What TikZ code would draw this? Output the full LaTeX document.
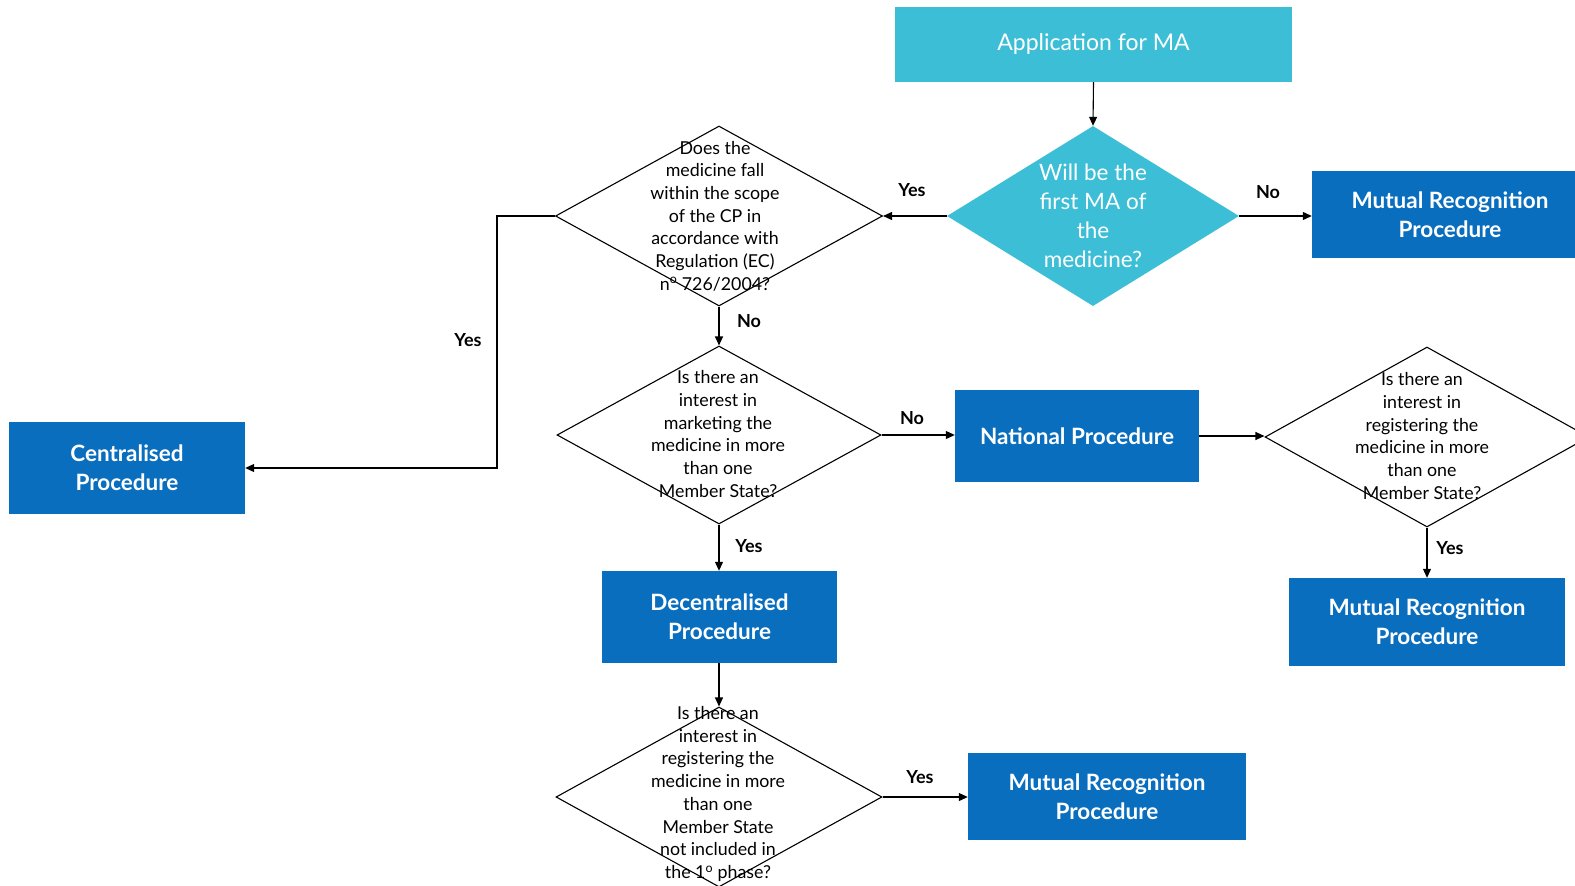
\documentclass[tikz,border=0pt]{standalone}
\usepackage{fontspec}
\setmainfont{Lato}
\usetikzlibrary{shapes.geometric,arrows.meta}
\definecolor{cyanbox}{HTML}{3CBFD6}
\definecolor{bluebox}{HTML}{0A6EBF}
\begin{document}
\begin{tikzpicture}[x=1pt,y=-1pt,
  procbox/.style={rectangle, fill=bluebox, text=white, inner sep=0pt, align=center,
    font=\fontsize{22.5}{29}\selectfont\bfseries},
  qdiamond/.style={diamond, draw=black, line width=1.1pt, inner sep=0pt, fill=white},
  qtext/.style={align=center, inner sep=0pt, font=\fontsize{17.8}{22.7}\selectfont},
  lbl/.style={inner sep=0pt, font=\fontsize{18}{20}\selectfont\bfseries},
  arr/.style={line width=1.1pt, -{Triangle[length=9pt,width=8pt]}}
]
\clip (0,0) rectangle (1575,886);
\fill[white] (0,0) rectangle (1575,886);

% boxes
\node[rectangle, fill=cyanbox, text=white, inner sep=0pt, minimum width=397pt, minimum height=75pt,
  font=\fontsize{23}{28}\selectfont] (app) at (1093.5,44.5) {Application for MA};
\node[procbox, minimum width=276pt, minimum height=87pt] (mrp1) at (1450,214.5) {Mutual Recognition\\Procedure};
\node[procbox, minimum width=236pt, minimum height=92pt] (cp) at (127,468) {Centralised\\Procedure};
\node[procbox, minimum width=244pt, minimum height=92pt] (np) at (1077,436) {National Procedure};
\node[procbox, minimum width=235pt, minimum height=92pt] (dp) at (719.5,617) {Decentralised\\Procedure};
\node[procbox, minimum width=276pt, minimum height=88pt] (mrp2) at (1427,622) {Mutual Recognition\\Procedure};
\node[procbox, minimum width=278pt, minimum height=87pt] (mrp3) at (1107,796.5) {Mutual Recognition\\Procedure};

% diamonds
\node[diamond, fill=cyanbox, inner sep=0pt, minimum width=292pt, minimum height=180pt] (d1) at (1093,216) {};
\node[text=white, align=center, inner sep=0pt, font=\fontsize{22.5}{29}\selectfont] (d1t) at (1093,216)
  {Will be the\\first MA of\\the\\medicine?};
\node[qdiamond, minimum width=327pt, minimum height=180pt] (d2) at (719,216) {};
\node[qtext] (d2t) at (715,216) {Does the\\medicine fall\\within the scope\\of the CP in\\accordance with\\Regulation (EC)\\n\textsuperscript{o} 726/2004?};
\node[qdiamond, minimum width=324pt, minimum height=178pt] (d3) at (719,435) {};
\node[qtext] (d3t) at (718,434) {Is there an\\interest in\\marketing the\\medicine in more\\than one\\Member State?};
\node[qdiamond, minimum width=324pt, minimum height=180pt] (d4) at (1427,437) {};
\node[qtext] (d4t) at (1422,436) {Is there an\\interest in\\registering the\\medicine in more\\than one\\Member State?};
\node[qdiamond, minimum width=326pt, minimum height=180pt] (d5) at (719,797) {};
\node[qtext] (d5t) at (718,794) {Is there an\\interest in\\registering the\\medicine in more\\than one\\Member State\\not included in\\the 1\textsuperscript{o} phase?};

% connectors
\coordinate (yesx) at (497,0);
\draw[arr] (app.south) -- (d1.north);
\draw[arr] (d1.east) -- (d1.east -| mrp1.west);
\draw[arr] (d1.west) -- (d2.east);
\draw[arr] (d2.west) -- (d2.west -| yesx) |- (cp.east);
\draw[arr] (d2.south) -- (d3.north);
\draw[arr] (d3.east) -- (d3.east -| np.west);
\draw[arr] (np.east) -- (np.east -| d4.west);
\draw[arr] (d4.south) -- (mrp2.north -| d4.south);
\draw[arr] (d3.south) -- (dp.north -| d3.south);
\draw[arr] (dp.south -| d5.north) -- (d5.north);
\draw[arr] (d5.east) -- (d5.east -| mrp3.west);

% labels
\node[lbl] (l1) at (1268,192) {No};
\node[lbl] (l2) at (912,190) {Yes};
\node[lbl] (l3) at (468,340) {Yes};
\node[lbl] (l4) at (749,321) {No};
\node[lbl] (l5) at (912,418) {No};
\node[lbl] (l6) at (749,546) {Yes};
\node[lbl] (l7) at (1450,548) {Yes};
\node[lbl] (l8) at (920,777) {Yes};
\end{tikzpicture}
\end{document}
